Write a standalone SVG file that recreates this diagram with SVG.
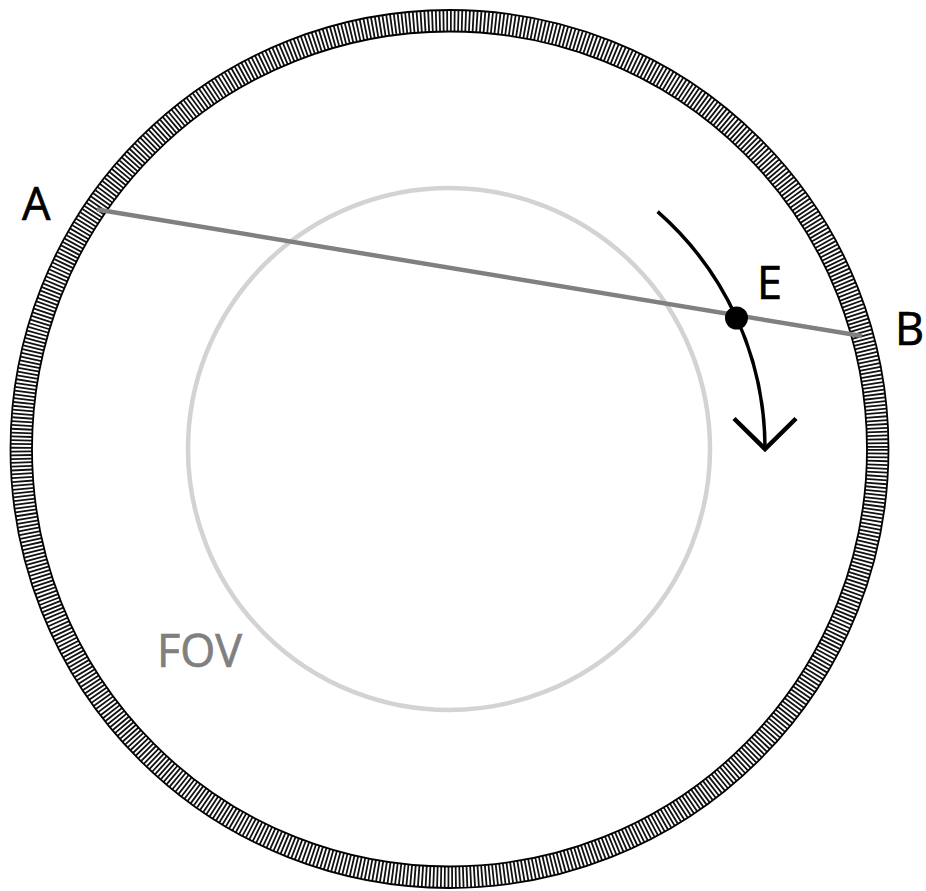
<svg xmlns="http://www.w3.org/2000/svg" width="926" height="891" viewBox="0 0 926 891">
<style>
.lbl{font-family:"Open Sans","Liberation Sans",sans-serif;font-size:45px;fill:#000;stroke:#000;stroke-width:0.7}
.fov{fill:#808080;stroke:#808080}
</style>
<rect width="926" height="891" fill="#fff"/>
<g id="ring">
<circle cx="449.5" cy="449" r="428" fill="none" stroke="#111" stroke-width="21" stroke-dasharray="1.8 1.935"/>
<circle cx="449.5" cy="449" r="439" fill="none" stroke="#000" stroke-width="1.8"/>
<circle cx="449.5" cy="449" r="417.5" fill="none" stroke="#000" stroke-width="1.8"/>
</g>
<g id="fov">
<circle cx="449" cy="449" r="261" fill="none" stroke="#d3d3d3" stroke-width="4.5"/>
<text class="lbl fov" x="157" y="667">FOV</text>
</g>
<g id="connectors">
<line x1="97" y1="209.5" x2="862" y2="336" stroke="#808080" stroke-width="4.5"/>
<path d="M657.6 211.6 A316 316 0 0 1 765 447" fill="none" stroke="#000" stroke-width="3.5"/>
<path d="M734 418.5 L765 449 L796 418.5" fill="none" stroke="#000" stroke-width="4.5"/>
</g>
<g id="E">
<circle cx="736.5" cy="318" r="11.5" fill="#000"/>
<text class="lbl" x="757" y="299">E</text>
</g>
<g id="A"><text class="lbl" x="22" y="220">A</text></g>
<g id="B"><text class="lbl" x="895" y="345">B</text></g>
</svg>
